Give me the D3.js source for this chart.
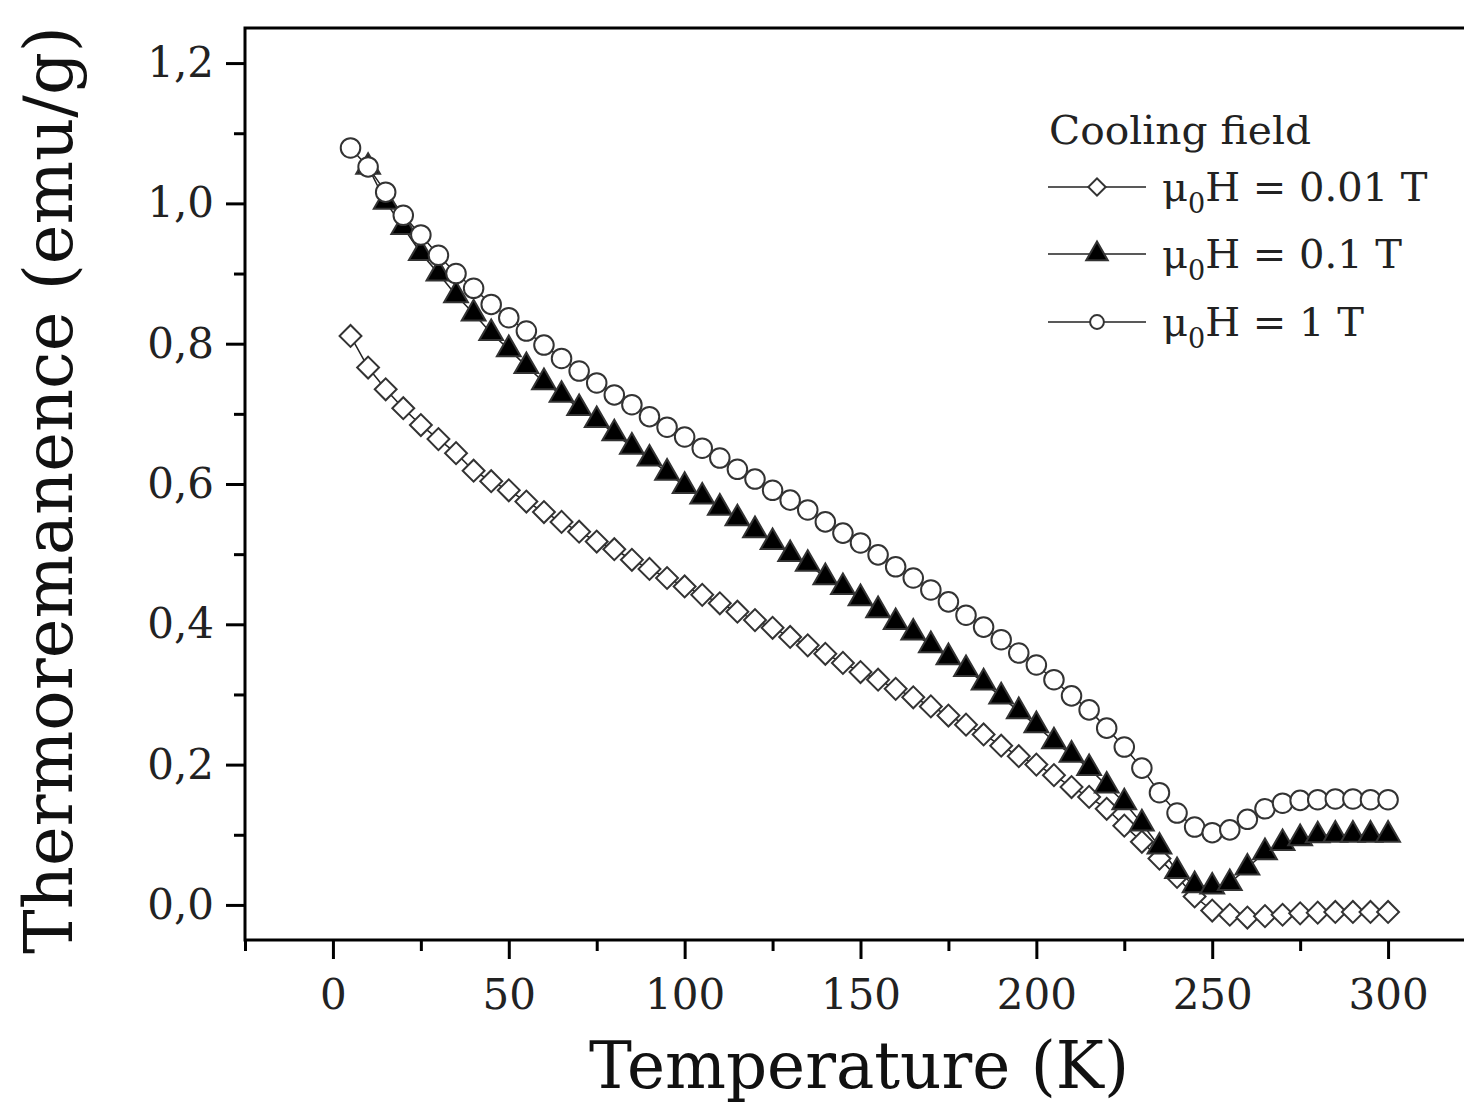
<!DOCTYPE html>
<html>
<head>
<meta charset="utf-8">
<script src="https://cdnjs.cloudflare.com/ajax/libs/d3/7.8.5/d3.min.js"></script>
<style>
    body { margin: 0; background: #fff; }
    svg { display: block; }
</style>
</head>
<body>
<div id="chart"></div>
<script>
// temperatures (K)
const temps = [5, 10, 15, 20, 25, 30, 35, 40, 45, 50, 55, 60, 65, 70, 75, 80, 85, 90, 95, 100,
    105, 110, 115, 120, 125, 130, 135, 140, 145, 150, 155, 160, 165, 170, 175, 180, 185, 190, 195, 200,
    205, 210, 215, 220, 225, 230, 235, 240, 245, 250, 255, 260, 265, 270, 275, 280, 285, 290, 295, 300]
const tempsTri = temps.slice(1)

// cooling field 0.01 T (diamonds)
const field001 = [0.811, 0.766, 0.735, 0.708, 0.684, 0.664, 0.644, 0.619, 0.604, 0.591,
    0.575, 0.560, 0.546, 0.532, 0.518, 0.507, 0.492, 0.479, 0.466, 0.454,
    0.442, 0.430, 0.418, 0.406, 0.395, 0.382, 0.370, 0.358, 0.345, 0.332,
    0.321, 0.308, 0.296, 0.283, 0.270, 0.257, 0.243, 0.227, 0.212, 0.200,
    0.185, 0.168, 0.154, 0.137, 0.113, 0.090, 0.066, 0.040, 0.012, -0.008,
    -0.014, -0.018, -0.016, -0.014, -0.012, -0.011, -0.010, -0.010, -0.010, -0.010]

// cooling field 0.1 T (triangles, from 10 K)
const field01 = [1.052, 1.002, 0.966, 0.929, 0.900, 0.869, 0.843, 0.815, 0.792,
    0.768, 0.745, 0.727, 0.708, 0.691, 0.672, 0.653, 0.636, 0.616, 0.597,
    0.582, 0.566, 0.551, 0.534, 0.517, 0.500, 0.486, 0.467, 0.453, 0.437,
    0.420, 0.403, 0.388, 0.370, 0.353, 0.336, 0.317, 0.297, 0.276, 0.256,
    0.233, 0.214, 0.195, 0.170, 0.146, 0.116, 0.083, 0.048, 0.028, 0.026,
    0.031, 0.053, 0.075, 0.088, 0.095, 0.099, 0.100, 0.100, 0.100, 0.100]

// cooling field 1 T (circles)
const field1 = [1.079, 1.052, 1.016, 0.983, 0.955, 0.926, 0.900, 0.879, 0.856, 0.837,
    0.818, 0.798, 0.779, 0.761, 0.744, 0.727, 0.713, 0.696, 0.681, 0.667,
    0.651, 0.637, 0.621, 0.607, 0.591, 0.577, 0.563, 0.546, 0.530, 0.516,
    0.499, 0.482, 0.466, 0.449, 0.432, 0.413, 0.396, 0.378, 0.359, 0.342,
    0.321, 0.298, 0.278, 0.252, 0.225, 0.195, 0.160, 0.131, 0.111, 0.103,
    0.107, 0.122, 0.137, 0.145, 0.149, 0.150, 0.151, 0.151, 0.150, 0.150]

const xMajorTicks = [0, 50, 100, 150, 200, 250, 300]
const xMinorTicks = [-25, 25, 75, 125, 175, 225, 275, 325]
const yMajorTicks = [0, 0.2, 0.4, 0.6, 0.8, 1.0, 1.2]
const yMinorTicks = [0.1, 0.3, 0.5, 0.7, 0.9, 1.1]
const legendLabels = ['0.01 T', '0.1 T', '1 T']

const width = 1464
const height = 1106
const serif = "'DejaVu Serif', 'Liberation Serif', serif"

const svg = d3.select('#chart')
    .append('svg')
    .attr('width', width)
    .attr('height', height)

svg.append('rect')
    .attr('width', width)
    .attr('height', height)
    .attr('fill', 'white')

const x = d3.scaleLinear().domain([-25, 325]).range([245, 1476])
const y = d3.scaleLinear().domain([-0.05, 1.25]).range([940, 28])

const commaFmt = d => d3.format('.1f')(d).replace('.', ',')

// minor ticks first
svg.append('g')
    .attr('transform', `translate(0,${y(-0.05)})`)
    .call(d3.axisBottom(x).tickValues(xMinorTicks).tickSize(11).tickFormat(''))
    .call(g => g.select('.domain').remove())
    .call(g => g.selectAll('line').attr('stroke', '#000').attr('stroke-width', 3))

svg.append('g')
    .attr('transform', `translate(${x(-25)},0)`)
    .call(d3.axisLeft(y).tickValues(yMinorTicks).tickSize(11).tickFormat(''))
    .call(g => g.select('.domain').remove())
    .call(g => g.selectAll('line').attr('stroke', '#000').attr('stroke-width', 3))

// major ticks
svg.append('g')
    .attr('transform', `translate(0,${y(-0.05)})`)
    .call(d3.axisBottom(x).tickValues(xMajorTicks).tickSize(19).tickPadding(20).tickFormat(d3.format('d')))
    .call(g => g.select('.domain').remove())
    .call(g => g.selectAll('line').attr('stroke', '#000').attr('stroke-width', 3))
    .call(g => g.selectAll('text')
        .attr('fill', '#222')
        .style('font-family', serif)
        .style('font-size', '42px'))

svg.append('g')
    .attr('transform', `translate(${x(-25)},0)`)
    .call(d3.axisLeft(y).tickValues(yMajorTicks).tickSize(19).tickPadding(12).tickFormat(commaFmt))
    .call(g => g.select('.domain').remove())
    .call(g => g.selectAll('line').attr('stroke', '#000').attr('stroke-width', 3))
    .call(g => g.selectAll('text')
        .attr('fill', '#222')
        .style('font-family', serif)
        .style('font-size', '42px'))

// frame
svg.append('rect')
    .attr('x', x(-25))
    .attr('y', y(1.25))
    .attr('width', x(325) - x(-25))
    .attr('height', y(-0.05) - y(1.25))
    .attr('fill', 'none')
    .attr('stroke', '#000')
    .attr('stroke-width', 3)

// connecting lines
const line = d3.line().x(d => x(d[0])).y(d => y(d[1]))
const series = [
    { temps: temps, vals: field001, type: d3.symbolSquare, size: 240, rot: 45, fill: 'white' },
    { temps: tempsTri, vals: field01, type: d3.symbolTriangle, size: 245, rot: 0, fill: '#000' },
    { temps: temps, vals: field1, type: d3.symbolCircle, size: 300, rot: 0, fill: 'white' }
]

series.forEach(s => {
    svg.append('path')
        .datum(d3.zip(s.temps, s.vals))
        .attr('d', line)
        .attr('fill', 'none')
        .attr('stroke', '#222')
        .attr('stroke-width', 1.5)
})

series.forEach(s => {
    svg.append('g')
        .selectAll('path')
        .data(d3.zip(s.temps, s.vals))
        .join('path')
        .attr('d', d3.symbol().type(s.type).size(s.size))
        .attr('transform', d => `translate(${x(d[0])},${y(d[1])}) rotate(${s.rot})`)
        .attr('fill', s.fill)
        .attr('stroke', '#333')
        .attr('stroke-width', 2)
})

// legend
svg.append('text')
    .attr('x', 1049)
    .attr('y', 144)
    .attr('textLength', 262)
    .attr('lengthAdjust', 'spacingAndGlyphs')
    .style('font-family', serif)
    .style('font-size', '40px')
    .attr('fill', '#222')
    .text('Cooling field')

const rowY = [187, 254, 322]
series.forEach((s, i) => {
    const g = svg.append('g').attr('transform', `translate(0,${rowY[i]})`)
    g.append('line')
        .attr('x1', 1048)
        .attr('x2', 1146)
        .attr('y1', 0)
        .attr('y2', 0)
        .attr('stroke', '#222')
        .attr('stroke-width', 1.5)
    g.append('path')
        .attr('d', d3.symbol().type(s.type).size(s.type === d3.symbolTriangle ? 200 : 150))
        .attr('transform', `translate(1097,0) rotate(${s.rot})`)
        .attr('fill', s.fill)
        .attr('stroke', '#333')
        .attr('stroke-width', 2)
    const t = g.append('text')
        .attr('x', 1162)
        .attr('y', 14)
        .style('font-family', serif)
        .style('font-size', '40px')
        .attr('fill', '#222')
    t.append('tspan').text('\u03bc')
    t.append('tspan').attr('dy', 12).style('font-size', '27px').text('0')
    t.append('tspan').attr('dy', -12).text('H = ' + legendLabels[i])
})

// axis titles
svg.append('text')
    .attr('x', 859)
    .attr('y', 1088)
    .attr('text-anchor', 'middle')
    .attr('textLength', 540)
    .attr('lengthAdjust', 'spacingAndGlyphs')
    .style('font-family', serif)
    .style('font-size', '66px')
    .attr('fill', '#111')
    .text('Temperature (K)')

svg.append('text')
    .attr('transform', 'translate(72,490) rotate(-90)')
    .attr('text-anchor', 'middle')
    .attr('textLength', 928)
    .attr('lengthAdjust', 'spacingAndGlyphs')
    .style('font-family', serif)
    .style('font-size', '68px')
    .attr('fill', '#111')
    .text('Thermoremanence (emu/g)')
</script>
</body>
</html>
